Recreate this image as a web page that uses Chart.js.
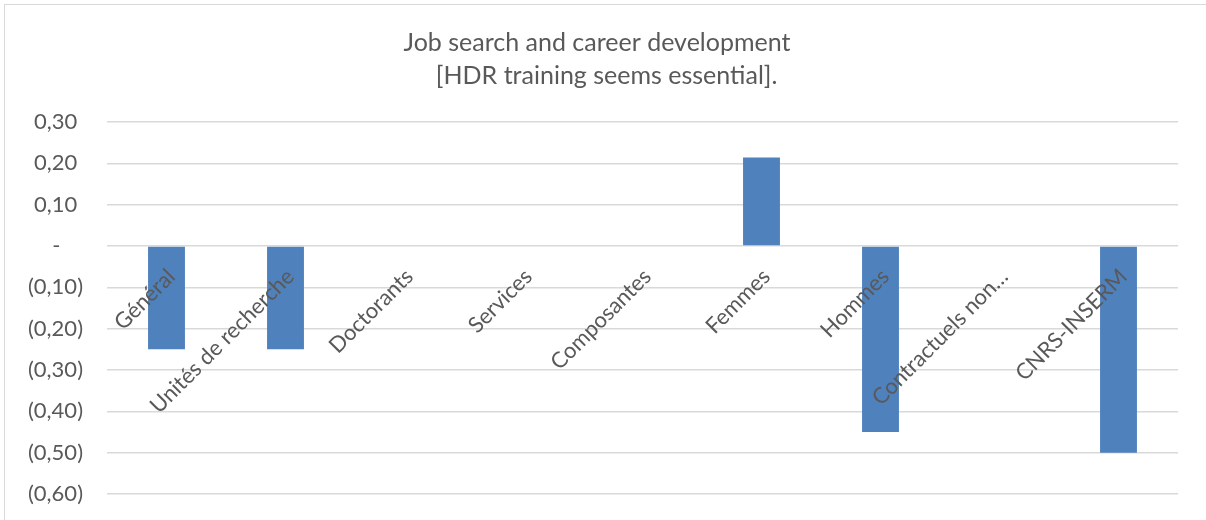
<!DOCTYPE html>
<html>
<head>
<meta charset="utf-8">
<script src="https://cdn.jsdelivr.net/npm/chart.js@4/dist/chart.umd.min.js"></script>
<style>
  html, body { margin: 0; padding: 0; background: #ffffff; }
  #wrap { width: 1206px; height: 520px; }
</style>
</head>
<body>
<div id="wrap"><canvas id="c" width="1206" height="520"></canvas></div>
<script>
const titleLines = ['Job search and career development', '   [HDR training seems essential].'];
const categories = ['Général', 'Unités de recherche', 'Doctorants', 'Services', 'Composantes', 'Femmes', 'Hommes', 'Contractuels non…', 'CNRS-INSERM'];
const values = [-0.25, -0.25, 0, 0, 0, 0.214, -0.45, 0, -0.5];
const yMin = -0.6;
const yMax = 0.3;
const yStep = 0.1;

const TEXT = '#595959';
const GRID = '#d9d9d9';
const FONT = 'Lato';

// accounting-style format: (0,10) for negatives, "-" for zero, trailing pad for positives
function fmt(v) {
  const r = Math.round(v * 100) / 100;
  if (Math.abs(r) < 1e-9) return '-    ';
  const s = Math.abs(r).toFixed(2).replace('.', ',');
  return r < 0 ? '(' + s + ')' : s + ' ';
}

const frame = {
  id: 'frame',
  beforeDraw(chart) {
    const ctx = chart.ctx;
    ctx.save();
    ctx.fillStyle = '#ffffff';
    ctx.fillRect(0, 0, chart.width, chart.height);
    ctx.strokeStyle = GRID;
    ctx.lineWidth = 1;
    ctx.strokeRect(4.5, 4.5, 1400, 700);
    ctx.restore();
  }
};

const catLabels = {
  id: 'catLabels',
  afterDatasetsDraw(chart) {
    const ctx = chart.ctx;
    const xs = chart.scales.x, ys = chart.scales.y;
    const y0 = ys.getPixelForValue(0);
    ctx.save();
    ctx.fillStyle = TEXT;
    ctx.font = '22px ' + FONT;
    ctx.textAlign = 'right';
    ctx.textBaseline = 'middle';
    categories.forEach((lab, i) => {
      const x = xs.getPixelForValue(i);
      ctx.save();
      ctx.translate(x + 5, y0 + 27);
      ctx.rotate(-Math.PI / 4);
      ctx.fillText(lab, 0, 0);
      ctx.restore();
    });
    ctx.restore();
  }
};

new Chart(document.getElementById('c'), {
  type: 'bar',
  data: {
    labels: categories,
    datasets: [{
      data: values,
      backgroundColor: '#4f81bd',
      borderWidth: 0,
      barPercentage: 0.31,
      categoryPercentage: 1.0
    }]
  },
  options: {
    responsive: false,
    animation: false,
    devicePixelRatio: 1,
    layout: { padding: { left: 16, right: 28, top: 0, bottom: 26 } },
    plugins: {
      legend: { display: false },
      tooltip: { enabled: false },
      title: {
        display: true,
        text: titleLines,
        color: TEXT,
        font: { family: FONT, size: 25, weight: 'normal', lineHeight: 1.32 },
        padding: { top: 26, bottom: 30 }
      }
    },
    scales: {
      x: {
        display: false
      },
      y: {
        min: yMin,
        max: yMax,
        afterFit(s) {
          s.width = 91;
          s.paddingTop = 0;
          s.paddingBottom = 0;
        },
        border: { display: false },
        grid: { color: GRID, lineWidth: 1.5, drawTicks: false },
        ticks: {
          stepSize: yStep,
          padding: 24,
          color: TEXT,
          font: { family: FONT, size: 22 },
          callback: (v) => fmt(v)
        }
      }
    }
  },
  plugins: [frame, catLabels]
});
</script>
</body>
</html>
